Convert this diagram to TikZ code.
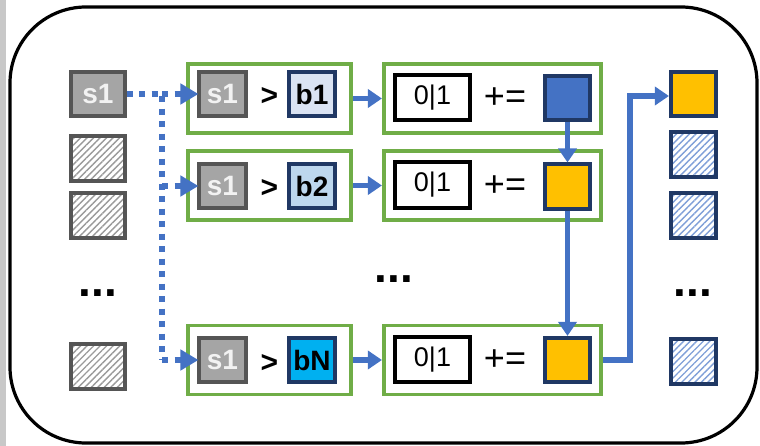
\documentclass[tikz,border=0pt]{standalone}
\usepackage{fontspec}
\setmainfont{Liberation Sans}
\usetikzlibrary{arrows.meta,patterns.meta}

\definecolor{grpgreen}{HTML}{70AD47}
\definecolor{flowblue}{HTML}{4472C4}
\definecolor{navy}{HTML}{203864}
\definecolor{amber}{HTML}{FFC000}
\definecolor{midgray}{HTML}{A5A5A5}
\definecolor{darkgray}{HTML}{555555}
\definecolor{lavender}{HTML}{DAE3F3}
\definecolor{paleblue}{HTML}{BDD7EE}
\definecolor{skyblue}{HTML}{00B0F0}
\definecolor{hatchgray}{HTML}{9A9A9A}
\definecolor{hatchblue}{HTML}{7F9FD8}
\definecolor{sidebar}{HTML}{C8C8C8}

\begin{document}
\begin{tikzpicture}[x=1pt,y=-1pt,
  boldtext/.style={font=\fontsize{28}{32}\selectfont\bfseries},
  optext/.style={font=\fontsize{36}{40}\selectfont},
  cell/.style={draw, line width=3.6pt, inner sep=0pt, minimum width=#1, minimum height=44.5pt},
  cell/.default=45.5pt,
  keycell/.style={cell=#1, fill=midgray, draw=darkgray, text=black!5, boldtext},
  keycell/.default=46.5pt,
  bincell/.style={cell=46.5pt, draw=navy, text=black, boldtext},
  grayhatch/.style={cell=53.5pt, draw=darkgray, preaction={fill=white},
    pattern={Lines[angle=45,distance=4.6pt,line width=1.4pt]}, pattern color=hatchgray},
  bluehatch/.style={cell, draw=navy, preaction={fill=white},
    pattern={Lines[angle=45,distance=4.6pt,line width=1.4pt]}, pattern color=hatchblue},
  countcell/.style={cell, draw=navy},
  flagcell/.style={draw=black, line width=3.6pt, fill=white, inner sep=0pt,
    minimum width=75.5pt, minimum height=45.5pt, font=\fontsize{27}{30}\selectfont},
  group/.style={draw=grpgreen, line width=3.6pt, inner sep=0pt},
  dots/.style={font=\fontsize{46}{50}\selectfont\bfseries, anchor=base, inner sep=0pt},
  flow/.style={draw=flowblue, line width=5.5pt,
    -{Triangle[length=14pt,width=18pt]}},
  fanout/.style={draw=flowblue, line width=5.5pt, dash pattern=on 6pt off 6.5pt},
  fanarrow/.style={fanout, -{Triangle[length=18pt,width=20pt]}, shorten >=-1pt}
]
\useasboundingbox (0,0) rectangle (760,446);

% page edge strip and outer frame
\fill[sidebar] (0,0) rectangle (6,446);
\draw[line width=3.2pt, rounded corners=76pt] (10,7) rectangle (757,443);

% input column
\node[keycell=53.5pt] (in1) at (98,94) {s1};
\node[grayhatch] (in2) at (98,158.5) {};
\node[grayhatch] (in3) at (98,215.5) {};
\node[dots] (indots) at (98,297) {...};
\node[grayhatch] (in4) at (98,366.5) {};

% comparison groups
\node[group, minimum width=163.5pt, minimum height=69.5pt] (ga1) at (269.5,98.5) {};
\node[group, minimum width=163.5pt, minimum height=69pt] (ga2) at (269.5,185.5) {};
\node[group, minimum width=163.5pt, minimum height=69pt] (ga3) at (269.5,360) {};

\node[keycell] (k1) at (222.5,94) {s1};
\node[keycell] (k2) at (222.5,186) {s1};
\node[keycell] (k3) at (222.5,360) {s1};
\node[font=\fontsize{30}{34}\selectfont\bfseries] (gt1) at (269.5,97) {>};
\node[font=\fontsize{30}{34}\selectfont\bfseries] (gt2) at (269.5,189) {>};
\node[font=\fontsize{30}{34}\selectfont\bfseries] (gt3) at (269.5,363) {>};
\node[bincell, fill=lavender] (b1) at (312,94) {b1};
\node[bincell, fill=paleblue] (b2) at (312,186) {b2};
\node[bincell, fill=skyblue] (b3) at (312,360) {bN};

% accumulation groups
\node[group, minimum width=217.5pt, minimum height=69.5pt] (gb1) at (492.5,98.5) {};
\node[group, minimum width=217.5pt, minimum height=69pt] (gb2) at (492.5,185.5) {};
\node[group, minimum width=217.5pt, minimum height=69pt] (gb3) at (492.5,360) {};

\node[flagcell] (f1) at (432.5,97.5) {0|1};
\node[flagcell] (f2) at (432.5,185) {0|1};
\node[flagcell] (f3) at (432.5,359.5) {0|1};
\node[optext] (pe1) at (505,98) {+=};
\node[optext] (pe2) at (505,186) {+=};
\node[optext] (pe3) at (505,360) {+=};
\node[countcell, fill=flowblue] (q1) at (567.5,98) {};
\node[countcell, fill=amber] (q2) at (567.5,186.5) {};
\node[countcell, fill=amber] (q3) at (567.5,360) {};

\node[dots] (middots) at (394,283) {...};

% output column
\node[countcell, fill=amber] (out1) at (693.5,94) {};
\node[bluehatch] (out2) at (693.5,154.5) {};
\node[bluehatch] (out3) at (693.5,215.5) {};
\node[dots] (outdots) at (693,297) {...};
\node[bluehatch] (out4) at (693.5,361.5) {};

% fan-out of the key to every comparison
\coordinate (fork) at (162,94);
\coordinate (forkend) at (162,360);
\draw[fanout] (in1.east) -- (fork) -- (forkend);
\draw[fanarrow] (fork) -- (k1.west);
\draw[fanarrow] (fork |- k2) -- (k2.west);
\draw[fanarrow] (forkend) -- (k3.west);

% comparison results into accumulators
\draw[flow] (ga1) -- (gb1);
\draw[flow] (ga2) -- (gb2);
\draw[flow] (ga3) -- (gb3);

% running count passed downwards
\draw[flow] (q1) -- (q2);
\draw[flow] (q2) -- (q3);

% final count to output
\coordinate (turn) at (630,96);
\draw[flow] (gb3.east) -| (turn) -- (turn -| out1.west);
\end{tikzpicture}
\end{document}
